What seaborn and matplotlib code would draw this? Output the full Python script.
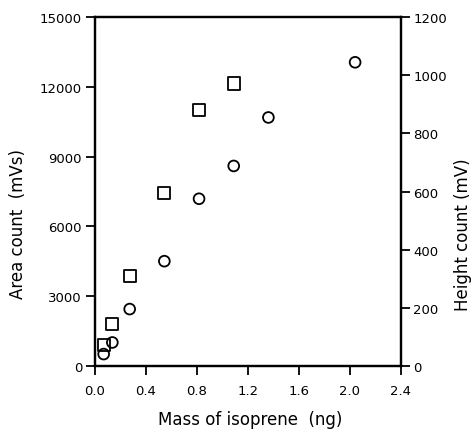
import matplotlib
matplotlib.use("Agg")
import matplotlib.pyplot as plt
import seaborn as sns
import pandas as pd

# Data
mass_area = [0.068, 0.136, 0.272, 0.544, 0.816, 1.088]
area_count = [880, 1800, 3850, 7450, 11000, 12150]

mass_height = [0.068, 0.136, 0.272, 0.544, 0.816, 1.088, 1.36, 2.04]
height_count = [40, 80, 195, 360, 575, 688, 855, 1045]

x_ticks = [0.0, 0.4, 0.8, 1.2, 1.6, 2.0, 2.4]
left_ticks = [0, 3000, 6000, 9000, 12000, 15000]
right_ticks = [0, 200, 400, 600, 800, 1000, 1200]

sns.set_style("ticks")
plt.rcParams['font.family'] = ['DejaVu Sans']
plt.rcParams['text.color'] = 'black'
plt.rcParams['axes.labelcolor'] = 'black'

fig = plt.figure(figsize=(4.77, 4.31), dpi=100)
ax = fig.add_axes([95/477, 1-366.7/431, (401-95)/477, (366.7-18.3)/431])
ax2 = ax.twinx()

df_a = pd.DataFrame({"mass": mass_area, "area": area_count})
df_h = pd.DataFrame({"mass": mass_height, "height": height_count})

sns.scatterplot(data=df_a, x="mass", y="area", ax=ax, marker="s", s=75,
                facecolor="none", edgecolor="black", linewidth=1.3, zorder=3)
sns.scatterplot(data=df_h, x="mass", y="height", ax=ax2, marker="o", s=60,
                facecolor="none", edgecolor="black", linewidth=1.3, zorder=3)

ax.set_xlim(0, 2.4)
ax.set_ylim(0, 15000)
ax2.set_ylim(0, 1200)
ax.set_xticks(x_ticks)
ax.set_xticklabels([f"{v:.1f}" for v in x_ticks])
ax.set_yticks(left_ticks)
ax.set_yticklabels([str(v) for v in left_ticks])
ax2.set_yticks(right_ticks)
ax2.set_yticklabels([str(v) for v in right_ticks])

for a in (ax, ax2):
    for side in ("left", "right", "bottom", "top"):
        a.spines[side].set_visible(True)
        a.spines[side].set_linewidth(1.6)
        a.spines[side].set_color("black")
    a.tick_params(direction="out", length=6.3, width=1.3, colors="black",
                  labelcolor="black", labelsize=9.5)

ax.tick_params(axis="y", pad=3)
ax2.tick_params(axis="y", pad=2.5)
ax.tick_params(axis="x", pad=7)

ax.set_xlabel("Mass of isoprene  (ng)", fontsize=12, color="black")
ax.set_ylabel("Area count  (mVs)", fontsize=12, color="black")
ax2.set_ylabel("Height count (mV)", fontsize=12, color="black")
ax.xaxis.set_label_coords(0.507, -0.153)
ax.yaxis.set_label_coords(-0.25, 0.41)
ax2.yaxis.set_label_coords(1.203, 0.38)
ax.xaxis.label.set_va("center")
ax.yaxis.label.set_va("center")
ax2.yaxis.label.set_va("center")

fig.savefig("out.png", dpi=100)
